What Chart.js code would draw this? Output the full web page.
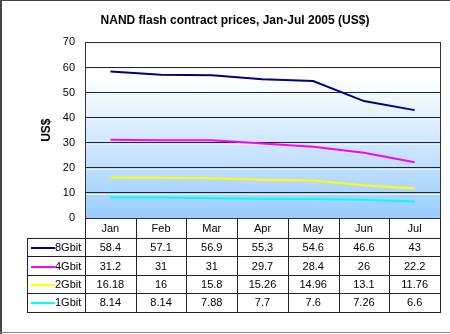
<!DOCTYPE html>
<html>
<head>
<meta charset="utf-8">
<script src="https://cdn.jsdelivr.net/npm/chart.js@4"></script>
<style>
html,body{margin:0;padding:0;background:#fff;}
canvas{display:block;}
</style>
</head>
<body>
<canvas id="c" width="450" height="334"></canvas>
<script>
const categories = ['Jan','Feb','Mar','Apr','May','Jun','Jul'];
const seriesNames = ['8Gbit','4Gbit','2Gbit','1Gbit'];
const s8Gbit = [58.4,57.1,56.9,55.3,54.6,46.6,43];
const s4Gbit = [31.2,31,31,29.7,28.4,26,22.2];
const s2Gbit = [16.18,16,15.8,15.26,14.96,13.1,11.76];
const s1Gbit = [8.14,8.14,7.88,7.7,7.6,7.26,6.6];
const yTicks = [0,10,20,30,40,50,60,70];

const FONT = '"Liberation Sans", Arial, sans-serif';
const colors = ['#000080','#FF00FF','#FFFF00','#00FFFF'];
const seriesValues = [s8Gbit, s4Gbit, s2Gbit, s1Gbit];

const frame = {
  id:'frame',
  beforeDraw(chart){
    const ctx = chart.ctx;
    ctx.save();
    ctx.fillStyle='#fff';
    ctx.fillRect(0,0,chart.width,chart.height);
    ctx.fillStyle='#444';
    ctx.fillRect(0,0,chart.width,1);
    ctx.fillRect(0,0,2,chart.height);
    ctx.fillStyle='#888';
    ctx.fillRect(0,chart.height-2,chart.width,1);
    // plot background
    const a = chart.chartArea;
    const y = chart.scales.y;
    const g = ctx.createLinearGradient(0,a.top,0,a.bottom);
    g.addColorStop(0,'#FFFFFF');
    g.addColorStop(0.2,'#FFFFFF');
    g.addColorStop(1,'#99CCFF');
    ctx.fillStyle=g;
    ctx.fillRect(a.left,a.top,a.right-a.left,a.bottom-a.top);
    // light highlight below gridlines
    ctx.strokeStyle='rgba(230,245,255,0.9)';
    ctx.lineWidth=1;
    yTicks.forEach(v=>{
      const py = Math.round(y.getPixelForValue(v));
      if(v>0){
        ctx.beginPath();ctx.moveTo(a.left,py+1.5);ctx.lineTo(a.right,py+1.5);ctx.stroke();
      }
    });
    ctx.restore();
  },
  afterDatasetsDraw(chart){
    const ctx = chart.ctx;
    const a = chart.chartArea;
    const x = chart.scales.x;
    ctx.save();
    // plot border
    ctx.strokeStyle='#333';
    ctx.lineWidth=1;
    ctx.strokeRect(Math.round(a.left)+0.5, Math.round(a.top)+0.5, Math.round(a.right-a.left), Math.round(a.bottom-a.top));
    // table
    const top = Math.round(a.bottom);
    const headH = 20;
    const rowH = 18.4;
    const legL = 27;
    const n = categories.length;
    const bounds = [];
    for(let i=0;i<=n;i++){
      const px = i<n ? x.getPixelForValue(i) - (x.getPixelForValue(1)-x.getPixelForValue(0))/2
                     : x.getPixelForValue(n-1) + (x.getPixelForValue(1)-x.getPixelForValue(0))/2;
      bounds.push(Math.round(px));
    }
    const rowsBottom = top + headH + rowH*seriesNames.length;
    ctx.strokeStyle='#222';
    ctx.lineWidth=1;
    // vertical lines
    bounds.forEach(bx=>{
      ctx.beginPath();ctx.moveTo(bx+0.5,top);ctx.lineTo(bx+0.5,Math.round(rowsBottom));ctx.stroke();
    });
    ctx.beginPath();ctx.moveTo(legL+0.5,top+headH);ctx.lineTo(legL+0.5,Math.round(rowsBottom));ctx.stroke();
    // horizontal lines
    for(let r=0;r<=seriesNames.length;r++){
      const yy = Math.round(top+headH+rowH*r)+0.5;
      ctx.beginPath();ctx.moveTo(legL,yy);ctx.lineTo(bounds[n]+1,yy);ctx.stroke();
    }
    ctx.fillStyle='#000';
    ctx.font='11px '+FONT;
    ctx.textAlign='center';
    ctx.textBaseline='middle';
    categories.forEach((c,i)=>{
      ctx.fillText(c, x.getPixelForValue(i), top+headH/2+1);
    });
    seriesNames.forEach((s,r)=>{
      const cy = top+headH+rowH*r+rowH/2+1;
      seriesValues[r].forEach((v,i)=>{
        ctx.fillText(String(v), x.getPixelForValue(i), cy);
      });
      ctx.strokeStyle=chart.data.datasets[r].borderColor;
      ctx.lineWidth=2;
      ctx.beginPath();ctx.moveTo(31,Math.round(cy));ctx.lineTo(55,Math.round(cy));ctx.stroke();
      ctx.textAlign='left';
      ctx.fillText(s,55,cy);
      ctx.textAlign='center';
    });
    ctx.restore();
  }
};

new Chart(document.getElementById('c'),{
  type:'line',
  data:{
    labels:categories,
    datasets:seriesNames.map((s,i)=>({
      label:s,
      data:seriesValues[i],
      borderColor:colors[i],
      backgroundColor:colors[i],
      borderWidth:2,
      pointRadius:0,
      tension:0,
      fill:false
    }))
  },
  options:{
    responsive:false,
    animation:false,
    devicePixelRatio:1,
    layout:{padding:{left:30,right:10,top:0,bottom:116}},
    plugins:{
      legend:{display:false},
      tooltip:{enabled:false},
      title:{
        display:true,
        text:'NAND flash contract prices, Jan-Jul 2005 (US$)',
        color:'#000',
        font:{family:FONT,size:12,weight:'bold'},
        padding:{top:13,bottom:15}
      }
    },
    scales:{
      x:{
        display:false,
        offset:true
      },
      y:{
        min:0,max:70,
        afterFit(scale){ scale.width = 55; },
        afterBuildTicks(scale){ scale.ticks = yTicks.map(v=>({value:v})); },
        ticks:{color:'#000',font:{family:FONT,size:11},padding:10},
        grid:{color:'#222',lineWidth:1,drawTicks:false},
        border:{display:false},
        title:{display:true,text:'US$',color:'#000',font:{family:FONT,size:12,weight:'bold'},padding:{top:9,bottom:0}}
      }
    }
  },
  plugins:[frame]
});
</script>
</body>
</html>
